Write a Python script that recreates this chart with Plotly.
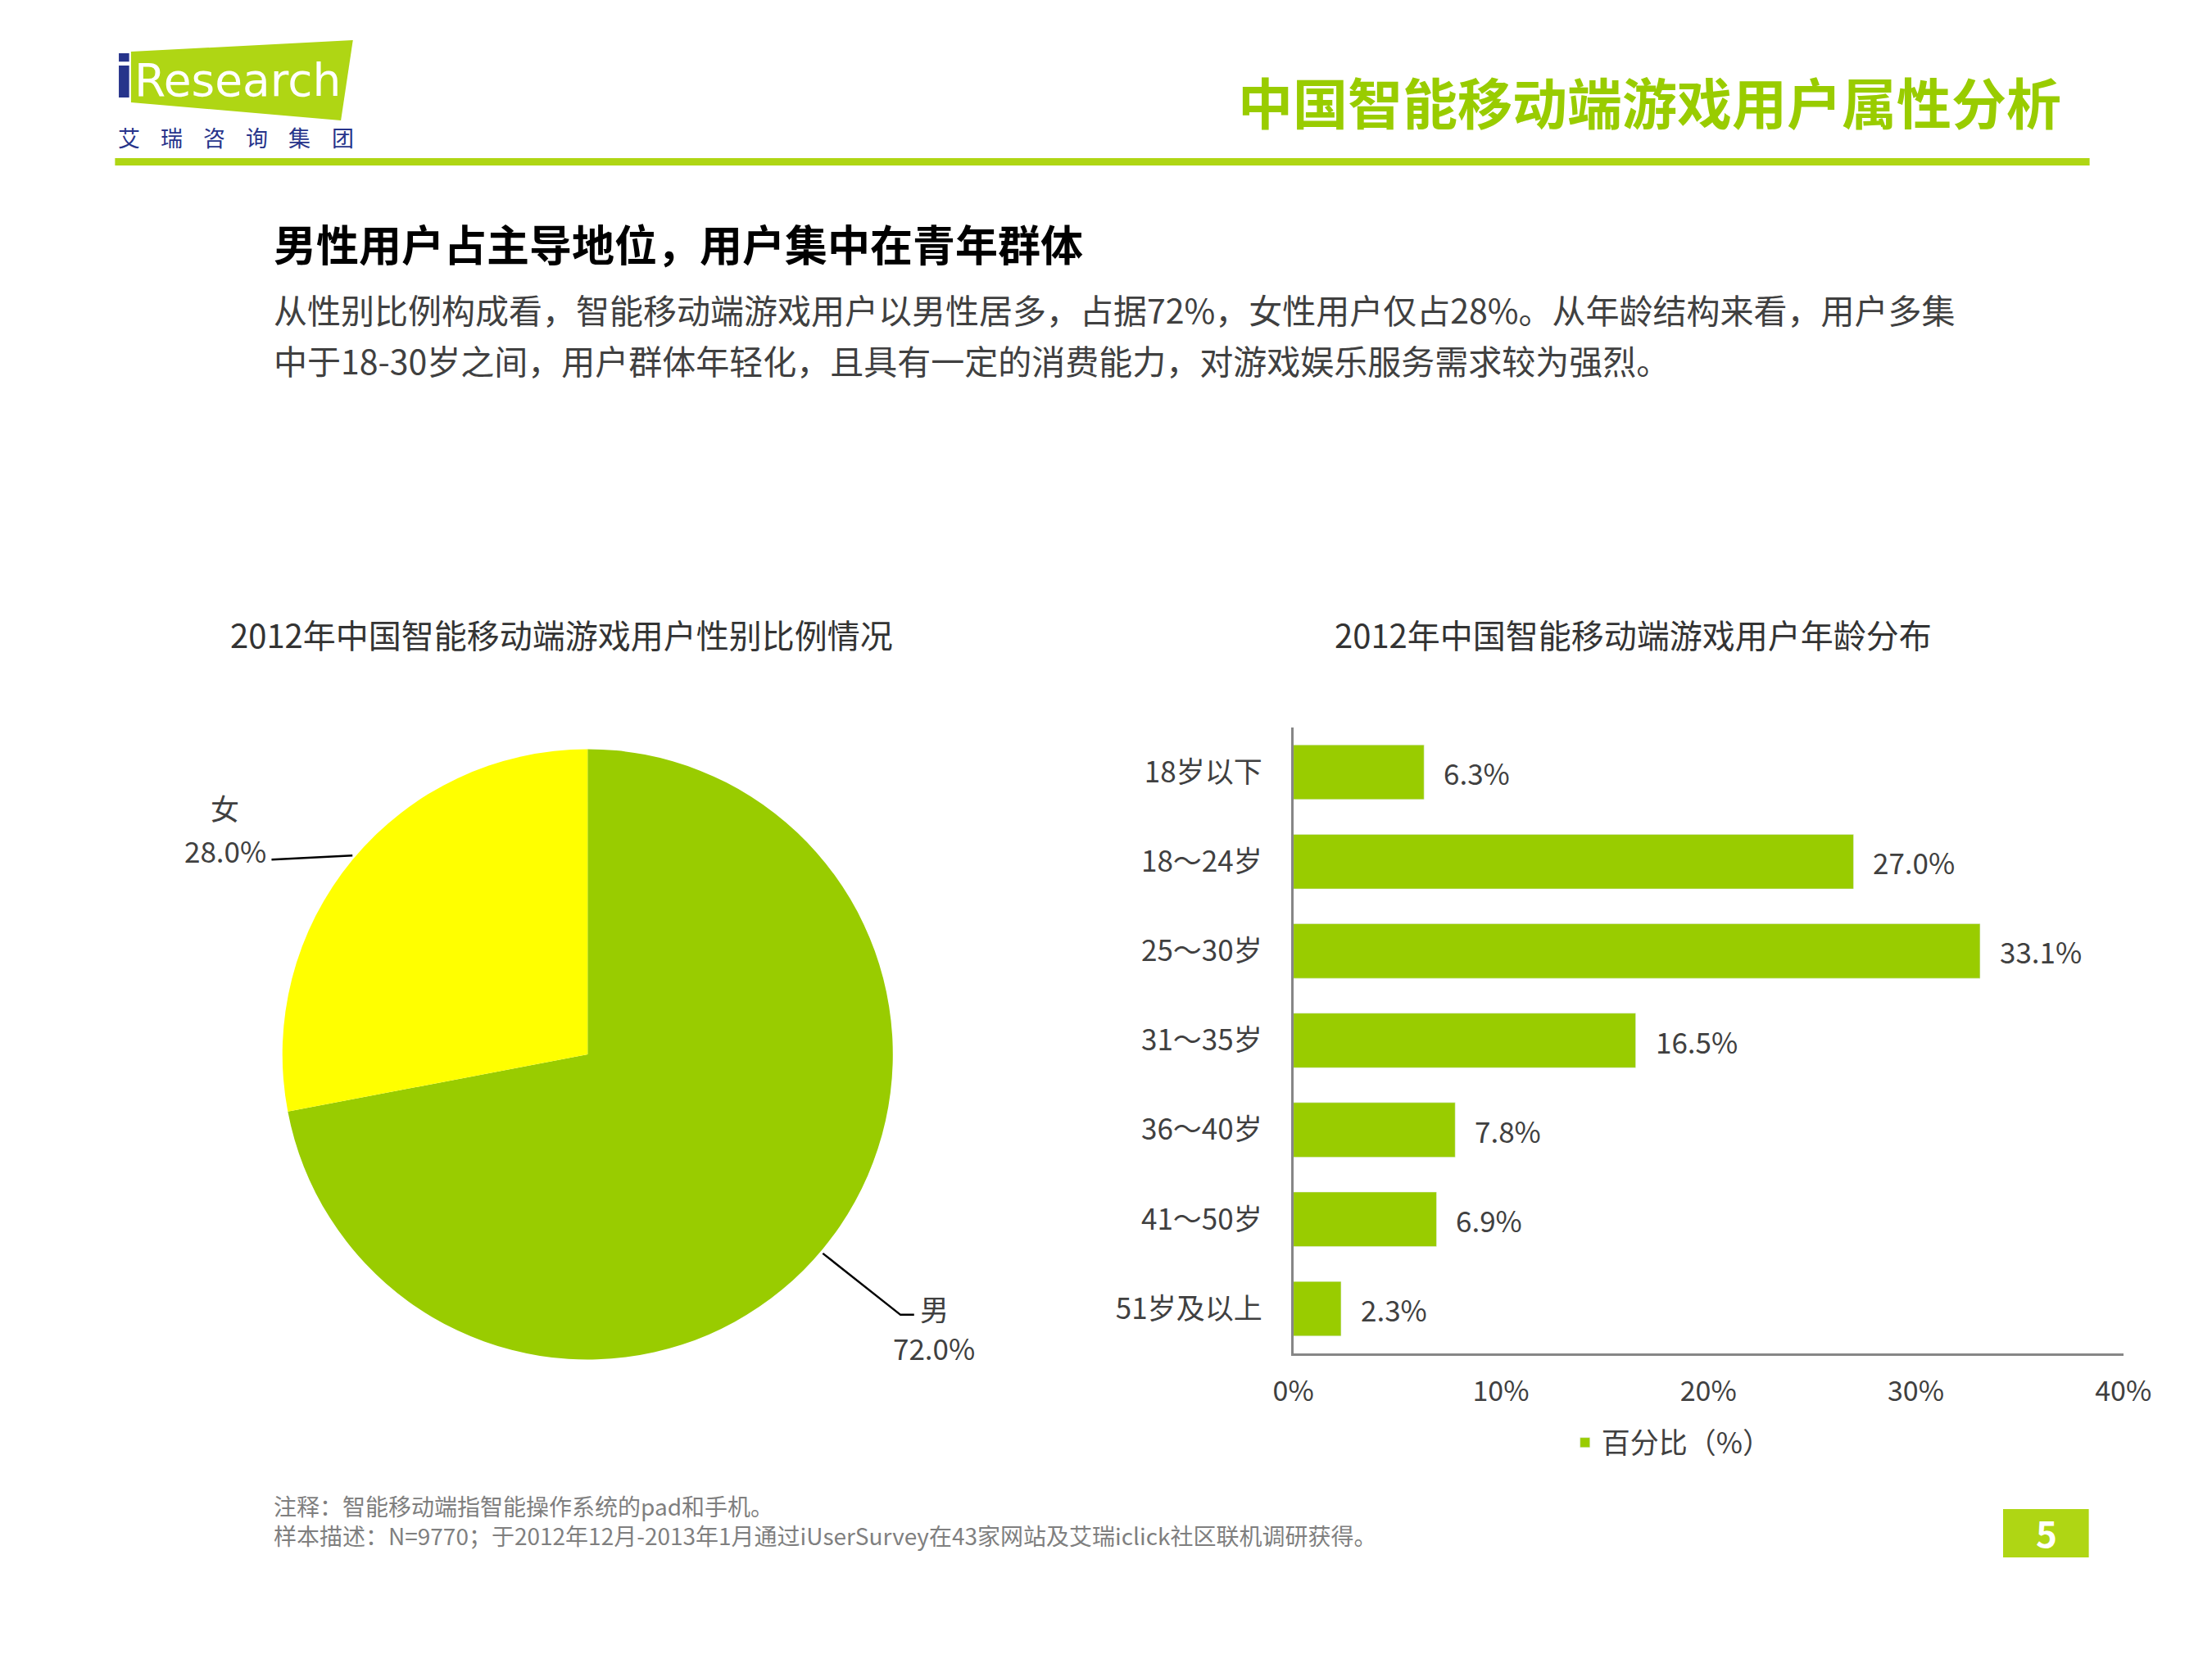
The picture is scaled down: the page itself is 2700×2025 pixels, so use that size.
import math
import plotly.graph_objects as go

# chart data
gender_labels = ["男", "女"]
gender_share = [72.0, 28.0]
age_groups = ["18岁以下", "18～24岁", "25～30岁", "31～35岁", "36～40岁", "41～50岁", "51岁及以上"]
age_share = [6.3, 27.0, 33.1, 16.5, 7.8, 6.9, 2.3]
x_ticks = [0, 10, 20, 30, 40]

W, H = 2700, 2025
FONT = "Noto Sans CJK SC"
GREEN = "#99CC00"
LIME = "#AFD614"
NAVY = "#27348B"
TXT = "#404040"


def px(x):
    return x / W


def py(y):
    return 1 - y / H


fig = go.Figure()

# pie (gender)
cx, cy, r = 708, 1287, 381
fig.add_trace(go.Pie(
    labels=gender_labels, values=gender_share, sort=False,
    direction="clockwise", rotation=0, textinfo="none", hoverinfo="label+percent",
    marker=dict(colors=[GREEN, "#FFFF00"], line=dict(width=0)),
    domain=dict(x=[px(cx - r), px(cx + r)], y=[py(cy + r), py(cy - r)]),
    showlegend=False,
))

# bar (age)
fig.add_trace(go.Bar(
    x=age_share, y=age_groups, orientation="h", name="百分比（%）",
    marker=dict(color=GREEN), width=0.61, showlegend=True,
))

annotations = []
shapes = []

# pie labels with leader lines, anchored at slice mid angle
leader_style = {
    "男": dict(elbow=(97, 75), tail=17, name=(139, 67), value=(139, 115)),
    "女": dict(elbow=(-101, 5), tail=0, name=(-159, -59), value=(-159, -7)),
}
total = sum(gender_share)
cum = 0
for lab, val in zip(gender_labels, gender_share):
    mid = (cum + val / 2) / total * 2 * math.pi
    cum += val
    ex, ey = cx + r * math.sin(mid), cy - r * math.cos(mid)
    st = leader_style[lab]
    bx, by = ex + st["elbow"][0], ey + st["elbow"][1]
    path = f"M {px(ex)},{py(ey)} L {px(bx)},{py(by)} L {px(bx + st['tail'])},{py(by)}"
    shapes.append(dict(type="path", xref="paper", yref="paper", path=path,
                       line=dict(color="black", width=2.5)))
    for key, txt in (("name", lab), ("value", f"{val:.1f}%")):
        annotations.append(dict(
            x=px(ex + st[key][0]), y=py(ey + st[key][1]), text=txt, xanchor="center",
            font=dict(family=FONT, size=35, color=TXT),
        ))

# bar value labels
for g, v in zip(age_groups, age_share):
    annotations.append(dict(
        x=v, y=g, xref="x", yref="y", text=f"{v:.1f}%",
        xanchor="left", xshift=22, font=dict(family=FONT, size=35, color=TXT),
    ))

# header / texts
annotations += [
    dict(x=px(2550), y=py(122), text="<b>中国智能移动端游戏用户属性分析</b>",
         xanchor="right", font=dict(size=67, color=GREEN)),
    dict(x=px(314), y=py(296), text="<b>男性用户占主导地位，用户集中在青年群体</b>",
         xanchor="left", font=dict(size=52, color="black")),
    dict(x=px(314), y=py(377),
         text="从性别比例构成看，智能移动端游戏用户以男性居多，占据72%，女性用户仅占28%。从年龄结构来看，用户多集",
         xanchor="left", font=dict(size=41, color=TXT)),
    dict(x=px(314), y=py(439),
         text="中于18-30岁之间，用户群体年轻化，且具有一定的消费能力，对游戏娱乐服务需求较为强烈。",
         xanchor="left", font=dict(size=41, color=TXT)),
    dict(x=px(675), y=py(774), text="2012年中国智能移动端游戏用户性别比例情况",
         xanchor="center", font=dict(size=40, color="#333333")),
    dict(x=px(2013), y=py(774), text="2012年中国智能移动端游戏用户年龄分布",
         xanchor="center", font=dict(size=40, color="#333333")),
    dict(x=px(314), y=py(1838), text="注释：智能移动端指智能操作系统的pad和手机。",
         xanchor="left", font=dict(size=28, color="#7F7F7F")),
    dict(x=px(314), y=py(1874),
         text="样本描述：N=9770；于2012年12月-2013年1月通过iUserSurvey在43家网站及艾瑞iclick社区联机调研获得。",
         xanchor="left", font=dict(size=28, color="#7F7F7F")),
    dict(x=px(2529), y=py(1870), text="<b>5</b>", xanchor="center",
         font=dict(size=44, color="white")),
    # logo text
    dict(x=px(129), y=py(94), text="<b>i</b>", xanchor="center",
         font=dict(family="DejaVu Sans", size=72, color=NAVY)),
    dict(x=px(140), y=py(98), text="Research", xanchor="left",
         font=dict(family="DejaVu Sans", size=55, color="white")),
]
for i, ch in enumerate("艾瑞咨询集团"):
    annotations.append(dict(x=px(135 + 53.4 * i), y=py(167), text=ch, xanchor="center",
                            font=dict(size=27, color=NAVY)))
for a in annotations:
    a.setdefault("xref", "paper")
    a.setdefault("yref", "paper")
    a.setdefault("showarrow", False)
    a.setdefault("yanchor", "middle")

shapes += [
    dict(type="path", xref="paper", yref="paper", line=dict(width=0), fillcolor=LIME,
         path=f"M {px(138)},{py(63)} L {px(415)},{py(49)} L {px(400)},{py(147)} L {px(138)},{py(125)} Z",
         layer="below"),
    dict(type="rect", xref="paper", yref="paper", x0=px(118), x1=px(2583), y0=py(202), y1=py(193),
         line=dict(width=0), fillcolor=LIME),
    dict(type="rect", xref="paper", yref="paper", x0=px(2475), x1=px(2582), y0=py(1901), y1=py(1842),
         line=dict(width=0), fillcolor=LIME),
]

fig.update_layout(
    width=W, height=H, autosize=False,
    margin=dict(l=0, r=0, t=0, b=0),
    paper_bgcolor="white", plot_bgcolor="white",
    font=dict(family=FONT, color=TXT, size=34),
    bargap=0.39,
    xaxis=dict(domain=[px(1589), px(2625)], range=[0, 40], tickvals=x_ticks,
               ticktext=[f"{t}%" for t in x_ticks], showgrid=False, zeroline=False,
               showline=True, linecolor="#868686", linewidth=3, ticks="",
               ticklabelstandoff=14, tickfont=dict(size=34, color=TXT), fixedrange=True),
    yaxis=dict(domain=[py(1652), py(888)], autorange="reversed", showgrid=False,
               showline=True, linecolor="#868686", linewidth=3, ticks="",
               ticklabelstandoff=28, tickfont=dict(size=35, color=TXT), fixedrange=True),
    legend=dict(orientation="h", x=px(2062), xanchor="center", y=py(1761), yanchor="middle",
                font=dict(size=35, color=TXT), itemwidth=30),
    annotations=annotations,
    shapes=shapes,
)

# page body margin would push the 2700x2025 figure off the window
fig.write_html("out.html", config={"displayModeBar": False},
               post_script="document.body.style.margin='0';document.body.style.overflow='hidden';")
